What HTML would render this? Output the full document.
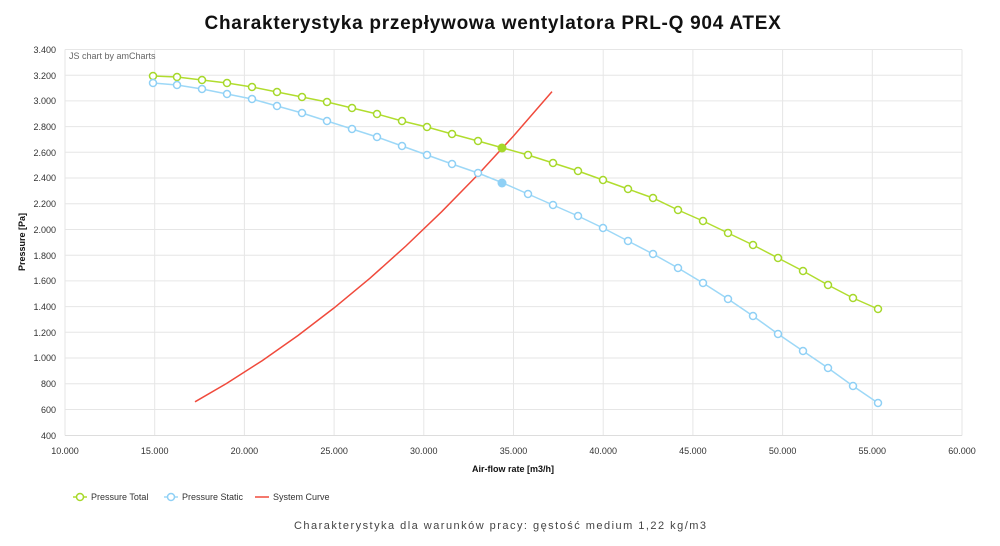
<!DOCTYPE html>
<html><head><meta charset="utf-8"><style>
body{margin:0;background:#fff;}
svg text{font-family:"Liberation Sans","DejaVu Sans",sans-serif;}
</style></head><body>
<svg width="1000" height="541" viewBox="0 0 1000 541" xmlns="http://www.w3.org/2000/svg">
<rect width="1000" height="541" fill="#fff"/>
<text x="493" y="29" text-anchor="middle" font-size="19" font-weight="bold" letter-spacing="0.7" fill="#111" textLength="577" lengthAdjust="spacing">Charakterystyka przepływowa wentylatora PRL-Q 904 ATEX</text>
<g stroke="#e6e6e6" stroke-width="1">
<line x1="65" y1="49.5" x2="962" y2="49.5"/><line x1="65" y1="75.2" x2="962" y2="75.2"/><line x1="65" y1="100.9" x2="962" y2="100.9"/><line x1="65" y1="126.6" x2="962" y2="126.6"/><line x1="65" y1="152.3" x2="962" y2="152.3"/><line x1="65" y1="178" x2="962" y2="178"/><line x1="65" y1="203.8" x2="962" y2="203.8"/><line x1="65" y1="229.5" x2="962" y2="229.5"/><line x1="65" y1="255.2" x2="962" y2="255.2"/><line x1="65" y1="280.9" x2="962" y2="280.9"/><line x1="65" y1="306.6" x2="962" y2="306.6"/><line x1="65" y1="332.3" x2="962" y2="332.3"/><line x1="65" y1="358" x2="962" y2="358"/><line x1="65" y1="383.8" x2="962" y2="383.8"/><line x1="65" y1="409.5" x2="962" y2="409.5"/>
<line x1="65" y1="49.5" x2="65" y2="435.5"/><line x1="154.7" y1="49.5" x2="154.7" y2="435.5"/><line x1="244.4" y1="49.5" x2="244.4" y2="435.5"/><line x1="334.1" y1="49.5" x2="334.1" y2="435.5"/><line x1="423.8" y1="49.5" x2="423.8" y2="435.5"/><line x1="513.5" y1="49.5" x2="513.5" y2="435.5"/><line x1="603.2" y1="49.5" x2="603.2" y2="435.5"/><line x1="692.9" y1="49.5" x2="692.9" y2="435.5"/><line x1="782.6" y1="49.5" x2="782.6" y2="435.5"/><line x1="872.3" y1="49.5" x2="872.3" y2="435.5"/><line x1="962" y1="49.5" x2="962" y2="435.5"/>
</g>
<line x1="65" y1="435.5" x2="962" y2="435.5" stroke="#ddd"/>
<g font-size="9" fill="#333" text-anchor="end">
<text x="56" y="53">3.400</text><text x="56" y="79">3.200</text><text x="56" y="104">3.000</text><text x="56" y="130">2.800</text><text x="56" y="156">2.600</text><text x="56" y="181">2.400</text><text x="56" y="207">2.200</text><text x="56" y="233">2.000</text><text x="56" y="259">1.800</text><text x="56" y="284">1.600</text><text x="56" y="310">1.400</text><text x="56" y="336">1.200</text><text x="56" y="361">1.000</text><text x="56" y="387">800</text><text x="56" y="413">600</text><text x="56" y="439">400</text>
</g>
<g font-size="9" fill="#333" text-anchor="middle">
<text x="65" y="454">10.000</text><text x="154.7" y="454">15.000</text><text x="244.4" y="454">20.000</text><text x="334.1" y="454">25.000</text><text x="423.8" y="454">30.000</text><text x="513.5" y="454">35.000</text><text x="603.2" y="454">40.000</text><text x="692.9" y="454">45.000</text><text x="782.6" y="454">50.000</text><text x="872.3" y="454">55.000</text><text x="962" y="454">60.000</text>
</g>
<text x="69" y="59" font-size="9" fill="#666">JS chart by amCharts</text>
<text x="513" y="472" text-anchor="middle" font-size="9" font-weight="bold" fill="#111">Air-flow rate [m3/h]</text>
<text transform="translate(25,242) rotate(-90)" text-anchor="middle" font-size="9" font-weight="bold" fill="#111">Pressure [Pa]</text>
<path d="M195,401.8 L226.5,383.5 L262.3,360.6 L298.2,335.4 L334.1,307.9 L370,278.2 L405.9,246 L441.7,211.7 L477.6,175 L513.5,136 L552,91.6" fill="none" stroke="#f04a3c" stroke-width="1.5"/>
<polyline fill="none" stroke="#b1dd2e" stroke-width="1.5" points="153,76 177,77 202,80 227,83 252,87 277,92 302,97 327,102 352,108 377,114 402,121 427,127 452,134 478,141 503,148 528,155 553,163 578,171 603,180 628,189 653,198 678,210 703,221 728,233 753,245 778,258 803,271 828,285 853,298 878,309"/>
<polyline fill="none" stroke="#9dd8f7" stroke-width="1.5" points="153,83 177,85 202,89 227,94 252,99 277,106 302,113 327,121 352,129 377,137 402,146 427,155 452,164 478,173 503,183 528,194 553,205 578,216 603,228 628,241 653,254 678,268 703,283 728,299 753,316 778,334 803,351 828,368 853,386 878,403"/>
<g fill="#fff" stroke="#a6d82a" stroke-width="1.5">
<circle cx="153" cy="76" r="3.5"/><circle cx="177" cy="77" r="3.5"/><circle cx="202" cy="80" r="3.5"/><circle cx="227" cy="83" r="3.5"/><circle cx="252" cy="87" r="3.5"/><circle cx="277" cy="92" r="3.5"/><circle cx="302" cy="97" r="3.5"/><circle cx="327" cy="102" r="3.5"/><circle cx="352" cy="108" r="3.5"/><circle cx="377" cy="114" r="3.5"/><circle cx="402" cy="121" r="3.5"/><circle cx="427" cy="127" r="3.5"/><circle cx="452" cy="134" r="3.5"/><circle cx="478" cy="141" r="3.5"/><circle cx="528" cy="155" r="3.5"/><circle cx="553" cy="163" r="3.5"/><circle cx="578" cy="171" r="3.5"/><circle cx="603" cy="180" r="3.5"/><circle cx="628" cy="189" r="3.5"/><circle cx="653" cy="198" r="3.5"/><circle cx="678" cy="210" r="3.5"/><circle cx="703" cy="221" r="3.5"/><circle cx="728" cy="233" r="3.5"/><circle cx="753" cy="245" r="3.5"/><circle cx="778" cy="258" r="3.5"/><circle cx="803" cy="271" r="3.5"/><circle cx="828" cy="285" r="3.5"/><circle cx="853" cy="298" r="3.5"/><circle cx="878" cy="309" r="3.5"/>
</g>
<g fill="#fff" stroke="#8fd0f5" stroke-width="1.5">
<circle cx="153" cy="83" r="3.5"/><circle cx="177" cy="85" r="3.5"/><circle cx="202" cy="89" r="3.5"/><circle cx="227" cy="94" r="3.5"/><circle cx="252" cy="99" r="3.5"/><circle cx="277" cy="106" r="3.5"/><circle cx="302" cy="113" r="3.5"/><circle cx="327" cy="121" r="3.5"/><circle cx="352" cy="129" r="3.5"/><circle cx="377" cy="137" r="3.5"/><circle cx="402" cy="146" r="3.5"/><circle cx="427" cy="155" r="3.5"/><circle cx="452" cy="164" r="3.5"/><circle cx="478" cy="173" r="3.5"/><circle cx="528" cy="194" r="3.5"/><circle cx="553" cy="205" r="3.5"/><circle cx="578" cy="216" r="3.5"/><circle cx="603" cy="228" r="3.5"/><circle cx="628" cy="241" r="3.5"/><circle cx="653" cy="254" r="3.5"/><circle cx="678" cy="268" r="3.5"/><circle cx="703" cy="283" r="3.5"/><circle cx="728" cy="299" r="3.5"/><circle cx="753" cy="316" r="3.5"/><circle cx="778" cy="334" r="3.5"/><circle cx="803" cy="351" r="3.5"/><circle cx="828" cy="368" r="3.5"/><circle cx="853" cy="386" r="3.5"/><circle cx="878" cy="403" r="3.5"/>
</g>
<circle cx="502" cy="148" r="4.5" fill="#a6d82a"/>
<circle cx="502" cy="183" r="4.5" fill="#8fd0f5"/>
<g font-size="9" fill="#333">
<line x1="73" y1="497" x2="87" y2="497" stroke="#b1dd2e" stroke-width="1.5"/><circle cx="80" cy="497" r="3.5" fill="#fff" stroke="#a6d82a" stroke-width="1.5"/>
<text x="91" y="500">Pressure Total</text>
<line x1="164" y1="497" x2="178" y2="497" stroke="#9dd8f7" stroke-width="1.5"/><circle cx="171" cy="497" r="3.5" fill="#fff" stroke="#8fd0f5" stroke-width="1.5"/>
<text x="182" y="500">Pressure Static</text>
<line x1="255" y1="497" x2="269" y2="497" stroke="#f04a3c" stroke-width="1.5"/>
<text x="273" y="500">System Curve</text>
</g>
<text x="500" y="529" text-anchor="middle" font-size="11" fill="#444" textLength="412" lengthAdjust="spacing">Charakterystyka dla warunków pracy: gęstość medium 1,22 kg/m3</text>
</svg>
</body></html>
